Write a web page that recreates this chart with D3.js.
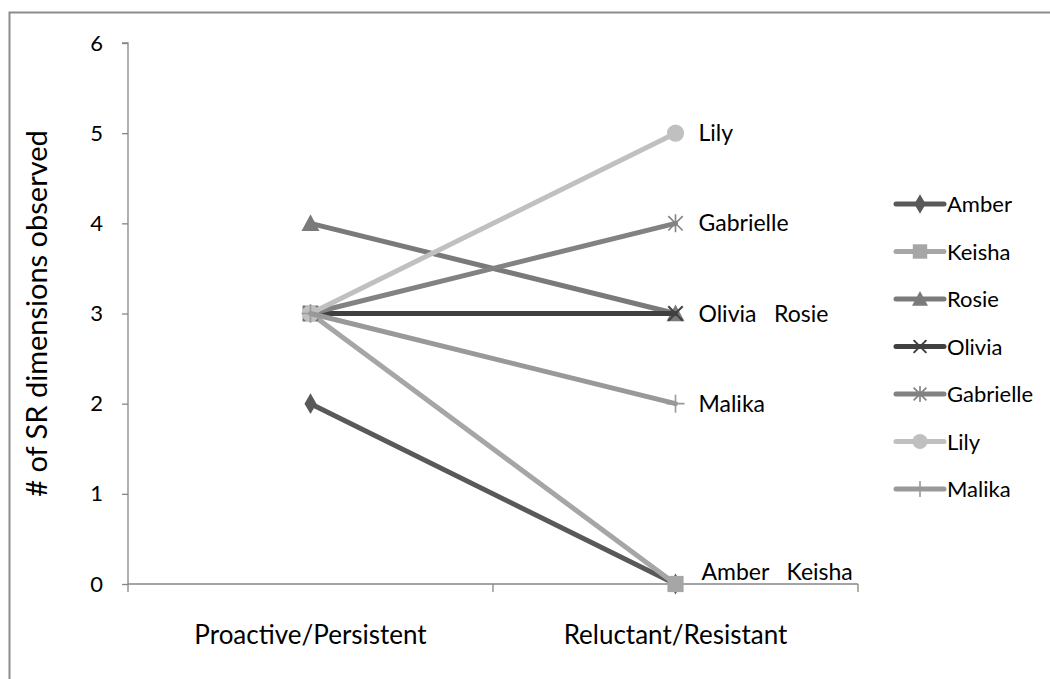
<!DOCTYPE html>
<html><head><meta charset="utf-8">
<script src="https://cdn.jsdelivr.net/npm/d3@7"></script>
<style>body{margin:0;background:#fff;} svg{display:block;font-family:Lato,"Open Sans",sans-serif;}</style>
</head><body>
<svg id="c" width="1050" height="679"></svg>
<script>
const categories = ["Proactive/Persistent", "Reluctant/Resistant"];
const seriesNames = ["Amber", "Keisha", "Rosie", "Olivia", "Gabrielle", "Lily", "Malika"];
const amber = [2, 0];
const keisha = [3, 0];
const rosie = [4, 3];
const olivia = [3, 3];
const gabrielle = [3, 4];
const lily = [3, 5];
const malika = [3, 2];
const yTicks = [0, 1, 2, 3, 4, 5, 6];
const pointLabels = [
  {text: "Lily", value: 5},
  {text: "Gabrielle", value: 4},
  {text: "Olivia   Rosie", value: 3},
  {text: "Malika", value: 2},
  {text: "Amber   Keisha", value: 0}
];

const seriesValues = [amber, keisha, rosie, olivia, gabrielle, lily, malika];
const colors = ["#595959", "#a6a6a6", "#7a7a7a", "#404040", "#828282", "#c0c0c0", "#999999"];
const markers = ["diamond", "square", "triangle", "x", "asterisk", "circle", "plus"];

const svg = d3.select("#c");
svg.append("rect").attr("x", 9.5).attr("y", 12.5).attr("width", 1100).attr("height", 700)
  .attr("fill", "none").attr("stroke", "#8c8c8c").attr("stroke-width", 2);

const pL = 128, pR = 858, pT = 43, pB = 584;
const x = d3.scaleBand().domain(categories).range([pL, pR]);
const y = d3.scaleLinear().domain([0, 6]).range([pB, pT]);
const cx = c => x(c) + x.bandwidth() / 2;

const yAxis = svg.append("g").attr("transform", `translate(${pL},0)`)
  .call(d3.axisLeft(y).tickValues(yTicks).tickSize(6).tickPadding(19).tickFormat(d3.format("d")));
const xAxis = svg.append("g").attr("transform", `translate(0,${pB})`)
  .call(d3.axisBottom(x).tickSize(0).tickPadding(42));
[yAxis, xAxis].forEach(g => {
  g.select(".domain").attr("stroke", "#868686").attr("stroke-width", 1.3);
  g.selectAll(".tick line").attr("stroke", "#868686").attr("stroke-width", 1.3);
});
yAxis.select(".domain").attr("d", `M-6,${pT}H0V${pB}`);
xAxis.select(".domain").attr("d", `M${pL},0H${pR}`);
yAxis.selectAll(".tick text").attr("font-size", 22).attr("fill", "#000").attr("font-family", "Lato,sans-serif");
xAxis.selectAll(".tick text").attr("font-size", 26).attr("fill", "#000").attr("font-family", "Lato,sans-serif");
const bounds = [pL, pL + x.bandwidth(), pR];
svg.append("g").selectAll("line").data(bounds).join("line")
  .attr("x1", d => d).attr("x2", d => d).attr("y1", pB).attr("y2", pB + 8)
  .attr("stroke", "#868686").attr("stroke-width", 1.3);

svg.append("text").attr("transform", `translate(47,${(pT + pB) / 2}) rotate(-90)`)
  .attr("text-anchor", "middle").attr("font-size", 29).attr("fill", "#000")
  .text("# of SR dimensions observed");

function drawMarker(g, type, color, px, py, s) {
  if (type === "diamond") {
    g.append("path").attr("d", d3.symbol(d3.symbolDiamond, s * 14)()).attr("transform", `translate(${px},${py})`).attr("fill", color);
  } else if (type === "square") {
    g.append("rect").attr("x", px - s * 0.9).attr("y", py - s * 0.9).attr("width", s * 1.8).attr("height", s * 1.8).attr("fill", color);
  } else if (type === "triangle") {
    g.append("path").attr("d", `M${px},${py - s}L${px + s},${py + s * 0.85}L${px - s},${py + s * 0.85}Z`).attr("fill", color);
  } else if (type === "circle") {
    g.append("circle").attr("cx", px).attr("cy", py).attr("r", s * 0.95).attr("fill", color);
  } else if (type === "x") {
    g.append("path").attr("d", `M${px - s * 0.8},${py - s * 0.8}L${px + s * 0.8},${py + s * 0.8}M${px - s * 0.8},${py + s * 0.8}L${px + s * 0.8},${py - s * 0.8}`)
      .attr("stroke", color).attr("stroke-width", 2).attr("fill", "none");
  } else if (type === "asterisk") {
    g.append("path").attr("d", `M${px - s * 0.8},${py - s * 0.8}L${px + s * 0.8},${py + s * 0.8}M${px - s * 0.8},${py + s * 0.8}L${px + s * 0.8},${py - s * 0.8}M${px},${py - s}L${px},${py + s}`)
      .attr("stroke", color).attr("stroke-width", 1.6).attr("fill", "none");
  } else if (type === "plus") {
    g.append("path").attr("d", `M${px - s},${py}L${px + s},${py}M${px},${py - s}L${px},${py + s}`)
      .attr("stroke", color).attr("stroke-width", 1.6).attr("fill", "none");
  }
}

const line = d3.line().x((d, i) => cx(categories[i])).y(d => y(d));
const plot = svg.append("g");
seriesValues.forEach((vals, k) => {
  const g = plot.append("g");
  g.append("path").datum(vals).attr("d", line).attr("fill", "none")
    .attr("stroke", colors[k]).attr("stroke-width", 5).attr("stroke-linecap", "round");
  vals.forEach((v, i) => drawMarker(g, markers[k], colors[k], cx(categories[i]), y(v), 9));
});

svg.append("g").selectAll("text").data(pointLabels).join("text")
  .attr("x", d => cx(categories[1]) + (d.value === 0 ? 26 : 23))
  .attr("y", d => y(d.value) + (d.value === 0 ? -4 : 8))
  .attr("font-size", 23).attr("fill", "#000")
  .style("white-space", "pre")
  .text(d => d.text);

const leg = svg.append("g");
seriesNames.forEach((name, k) => {
  const ly = 204 + k * 47.5;
  const g = leg.append("g");
  g.append("line").attr("x1", 896).attr("x2", 944).attr("y1", ly).attr("y2", ly)
    .attr("stroke", colors[k]).attr("stroke-width", 5).attr("stroke-linecap", "round");
  drawMarker(g, markers[k], colors[k], 920, ly, 8);
  g.append("text").attr("x", 947).attr("y", ly + 8).attr("font-size", 22).attr("fill", "#000").text(name);
});
</script>
</body></html>
